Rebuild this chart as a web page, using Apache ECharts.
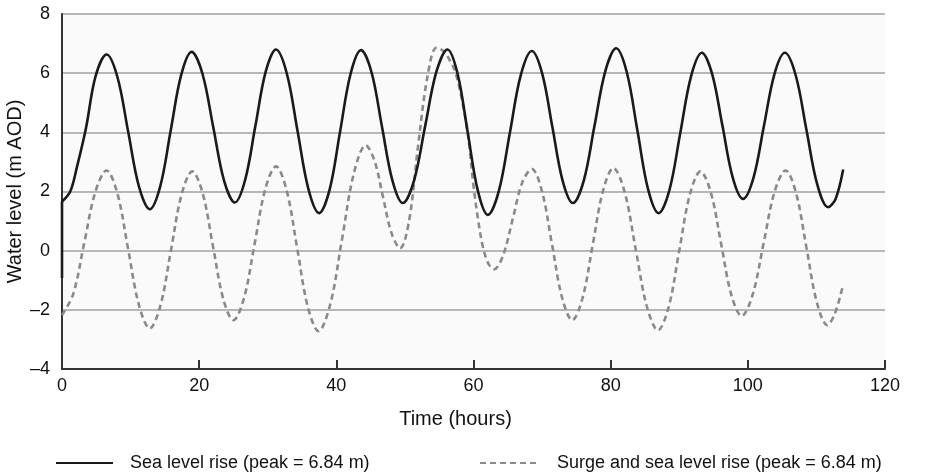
<!DOCTYPE html>
<html>
<head>
<meta charset="utf-8">
<script src="https://cdn.jsdelivr.net/npm/echarts@6/dist/echarts.min.js"></script>
<style>html,body{margin:0;padding:0;background:#fff}#chart{width:937px;height:476px}</style>
</head>
<body>
<div id="chart"></div>
<script>
// ---- data ----
const xTicks = [0, 20, 40, 60, 80, 100, 120];
const yTicks = [-4, -2, 0, 2, 4, 6, 8];

const seaName = 'Sea level rise (peak = 6.84 m)';
const surgeName = 'Surge and sea level rise (peak = 6.84 m)';

const seaStartHours = [0, 0];
const seaStartLevel = [-0.92, 1.66];

const seaHours = [0, 1.2, 2.2, 3.5, 4.9, 6.5,
  8.08, 9.65, 11.23, 12.8, 14.33, 15.85, 17.38, 18.9,
  20.48, 22.05, 23.63, 25.2, 26.7, 28.2, 29.7, 31.2,
  32.78, 34.35, 35.93, 37.5, 39.03, 40.55, 42.08, 43.6,
  45.13, 46.65, 48.18, 49.7, 51.33, 52.95, 54.58, 56.2,
  57.68, 59.15, 60.63, 62.1, 63.7, 65.3, 66.9, 68.5,
  70.0, 71.5, 73.0, 74.5, 76.08, 77.65, 79.23, 80.8,
  82.35, 83.9, 85.45, 87.0, 88.58, 90.15, 91.73, 93.3,
  94.8, 96.3, 97.8, 99.3, 100.83, 102.35, 103.88, 105.4,
  106.98, 108.55, 110.13, 111.7, 112.8, 113.9];
const seaLevel = [1.66, 2.0, 2.85, 4.15, 5.9, 6.63,
  5.87, 4.02, 2.16, 1.40, 2.18, 4.06, 5.94, 6.72,
  5.98, 4.18, 2.37, 1.63, 2.39, 4.22, 6.05, 6.80,
  5.99, 4.04, 2.08, 1.27, 2.07, 4.03, 5.98, 6.78,
  6.03, 4.20, 2.37, 1.61, 2.37, 4.21, 6.04, 6.80,
  5.98, 4.01, 2.03, 1.21, 2.02, 3.98, 5.94, 6.75,
  6.00, 4.18, 2.36, 1.61, 2.37, 4.23, 6.08, 6.84,
  6.03, 4.06, 2.08, 1.27, 2.06, 3.98, 5.90, 6.69,
  5.97, 4.22, 2.47, 1.75, 2.47, 4.22, 5.97, 6.69,
  5.93, 4.08, 2.23, 1.47, 1.75, 2.74];

const surgeHours = [0, 1.63, 3.25, 4.88, 6.5,
  8.08, 9.65, 11.23, 12.8, 14.35, 15.9, 17.45, 19.0,
  20.5, 22.0, 23.5, 25.0, 26.55, 28.1, 29.65, 31.2,
  32.75, 34.3, 35.85, 37.4, 39.13, 40.85, 42.58, 44.3,
  45.55, 46.8, 48.05, 49.3, 50.6, 51.9, 53.3, 54.6,
  55.6, 56.5, 57.4, 58.4, 59.2, 60.0, 60.7, 61.4, 62.2, 63.0,
  64.3, 65.8, 67.1, 68.5, 69.98, 71.45, 72.93, 74.4,
  75.9, 77.4, 78.9, 80.4, 82.03, 83.65, 85.28, 86.9,
  88.45, 90.0, 91.55, 93.1, 94.6, 96.1, 97.6, 99.1,
  100.7, 102.3, 103.9, 105.5, 107.03, 108.55, 110.08, 111.6,
  112.7, 113.8];
const surgeLevel = [-2.18, -1.47, 0.27, 2.0, 2.71,
  1.93, 0.04, -1.85, -2.63, -1.86, 0.03, 1.91, 2.68,
  1.95, 0.17, -1.62, -2.35, -1.59, 0.25, 2.09, 2.85,
  2.04, 0.07, -1.91, -2.72, -1.80, 0.42, 2.64, 3.56,
  3.05, 1.82, 0.59, 0.08, 1.0, 3.5, 5.9, 6.86,
  6.75, 6.45, 6.0, 5.0, 3.9, 2.2, 1.0, 0.1, -0.45, -0.63,
  -0.17, 1.15, 2.3, 2.76, 2.01, 0.21, -1.60, -2.35,
  -1.60, 0.22, 2.04, 2.79, 1.99, 0.05, -1.89, -2.69,
  -1.91, 0.0, 1.90, 2.68, 1.97, 0.24, -1.50, -2.21,
  -1.49, 0.25, 1.99, 2.71, 1.95, 0.10, -1.76, -2.52,
  -2.12, -1.24];

const zip = (xs, ys) => xs.map((x, i) => [x, ys[i]]);

const FONT = '"Liberation Sans", Arial, sans-serif';
const chart = echarts.init(document.getElementById('chart'), null, {renderer: 'canvas'});
chart.setOption({
  animation: false,
  backgroundColor: '#ffffff',
  grid: {left: 62, right: 52, top: 14, bottom: 107, containLabel: false, outerBoundsMode: 'none',
    show: true, backgroundColor: '#fafafa', borderWidth: 0},
  xAxis: {
    type: 'value',
    min: xTicks[0], max: xTicks[xTicks.length - 1], interval: 20,
    name: 'Time (hours)', nameLocation: 'middle', nameGap: 40, nameMoveOverlap: false,
    nameTextStyle: {fontFamily: FONT, fontSize: 20, color: '#111', padding: [0, 36, 0, 0]},
    axisLine: {show: true, onZero: false, lineStyle: {color: '#333', width: 2}},
    axisTick: {show: true, inside: true, length: 9, lineStyle: {color: '#333', width: 2}},
    axisLabel: {fontFamily: FONT, fontSize: 18, color: '#111', margin: 8},
    splitLine: {show: false}
  },
  yAxis: {
    type: 'value',
    min: yTicks[0], max: yTicks[yTicks.length - 1], interval: 2,
    name: 'Water level (m AOD)', nameLocation: 'middle', nameGap: 37, nameRotate: 90, nameMoveOverlap: false,
    nameTextStyle: {fontFamily: FONT, fontSize: 20, color: '#111'},
    axisLine: {show: true, onZero: false, lineStyle: {color: '#333', width: 2}},
    axisTick: {show: false},
    axisLabel: {fontFamily: FONT, fontSize: 18, color: '#111', margin: 12,
      formatter: v => (v < 0 ? '\u2013' + Math.abs(v) : String(v))},
    splitLine: {show: true, lineStyle: {color: '#a0a0a0', width: 1.5}}
  },
  legend: [
    {data: [seaName], left: 50, top: 449, itemWidth: 57, itemHeight: 14,
      itemStyle: {opacity: 0},
      textStyle: {fontFamily: FONT, fontSize: 18, color: '#111', padding: [0, 0, 0, 12]}},
    {data: [surgeName], left: 474, top: 449, itemWidth: 60, itemHeight: 14,
      itemStyle: {opacity: 0},
      textStyle: {fontFamily: FONT, fontSize: 18, color: '#111', padding: [0, 0, 0, 12]}}
  ],
  series: [
    {name: seaName, type: 'line', data: zip(seaStartHours, seaStartLevel), showSymbol: false, symbol: 'none',
      lineStyle: {color: '#1a1a1a', width: 2.6}, itemStyle: {color: '#1a1a1a'}, z: 3},
    {name: seaName, type: 'line', data: zip(seaHours, seaLevel), smooth: 0.35, showSymbol: false, symbol: 'none',
      lineStyle: {color: '#1a1a1a', width: 2.6}, itemStyle: {color: '#1a1a1a'}, z: 3},
    {name: surgeName, type: 'line', data: zip(surgeHours, surgeLevel), smooth: 0.35, showSymbol: false, symbol: 'none',
      lineStyle: {color: '#8a8a8a', width: 2.6, type: [6, 4]}, itemStyle: {color: '#8a8a8a'}, z: 2}
  ]
});
</script>
</body>
</html>
